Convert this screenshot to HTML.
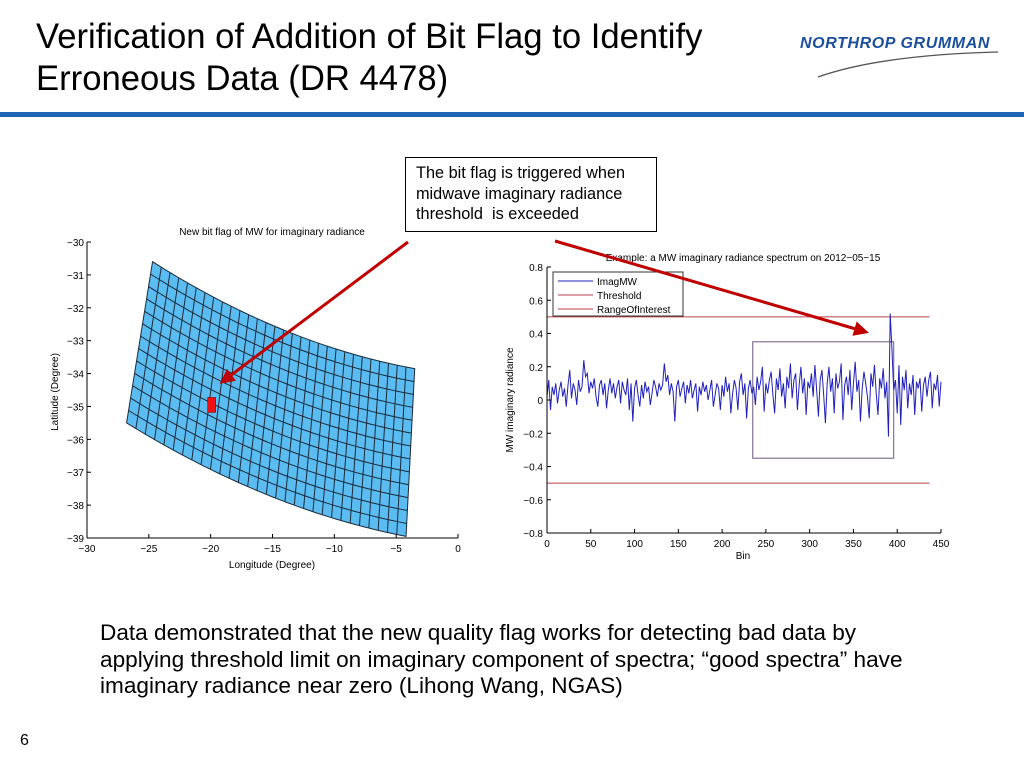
<!DOCTYPE html>
<html><head><meta charset="utf-8"><style>
body{margin:0;width:1024px;height:768px;background:#fff;position:relative;overflow:hidden;font-family:"Liberation Sans",sans-serif}
.t{position:absolute;left:36px;top:16px;font-size:35px;line-height:42px;color:#000;transform:scaleX(0.99);transform-origin:left top;white-space:nowrap}
.rule{position:absolute;left:0;top:112px;width:1024px;height:5px;background:#1f63b5}
.logo{position:absolute;left:800px;top:35px;font-size:16px;font-weight:bold;font-style:italic;color:#1a4f9c;letter-spacing:0.6px;white-space:nowrap}
.call{position:absolute;left:405px;top:157px;width:240px;height:68px;border:1.5px solid #000;padding:5px 0 0 10px;font-size:16.3px;line-height:20.5px;box-sizing:content-box;white-space:nowrap}
.body{position:absolute;left:100px;top:620px;font-size:22.6px;line-height:26.5px;white-space:nowrap}
.pg{position:absolute;left:20px;top:732px;font-size:16px}
svg{position:absolute;left:0;top:0}
</style></head><body>
<div class="t">Verification of Addition of Bit Flag to Identify<br>Erroneous Data (DR 4478)</div>
<div class="logo">NORTHROP GRUMMAN</div>
<div class="rule"></div>
<div class="call">The bit flag is triggered when<br>midwave imaginary radiance<br>threshold&nbsp; is exceeded</div>
<div class="body">Data demonstrated that the new quality flag works for detecting bad data by<br>applying threshold limit on imaginary component of spectra; “good spectra” have<br>imaginary radiance near zero (Lihong Wang, NGAS)</div>
<div class="pg">6</div>
<svg id="s" width="1024" height="768" xmlns="http://www.w3.org/2000/svg">
<path d="M818,77 Q880,55 998,52" stroke="#555" stroke-width="1.3" fill="none"/>
</svg>
<script>
// Left chart data
const lonTicks=[-30,-25,-20,-15,-10,-5,0];
const latTicks=[-30,-31,-32,-33,-34,-35,-36,-37,-38,-39];
const cornerLon=[-24.7,-3.5,-4.2,-26.8]; // TL,TR,BR,BL
const cornerLat=[-30.6,-33.85,-38.95,-35.5];
const gridCols=[30];
const gridRows=[13];
const flagCell=[-20.0,-35.0];
// Right chart data
const binTicks=[0,50,100,150,200,250,300,350,400,450];
const radTicks=[0.8,0.6,0.4,0.2,0,-0.2,-0.4,-0.6,-0.8];
const radLabels=['0.8','0.6','0.4','0.2','0','\u22120.2','\u22120.4','\u22120.6','\u22120.8'];
const threshold=[0.5,-0.5];
const roiBins=[235,396];
const roiRad=[0.35,-0.35];
const binStep=2;
const imagMW=[0.02,0.12,-0.06,0.08,0.03,0.10,-0.02,0.06,0.11,0.02,0.07,-0.04,0.09,0.18,0.01,0.10,0.06,-0.03,0.12,0.05,0.08,0.24,0.14,0.16,0.04,0.11,0.07,0.13,0.02,-0.04,0.09,0.12,0.03,0.10,-0.05,0.06,0.13,0.04,0.10,0.01,0.08,0.12,-0.02,0.11,0.06,0.03,0.13,-0.06,0.10,-0.13,0.07,0.12,0.03,-0.04,0.09,0.01,0.11,0.05,0.08,-0.03,0.04,0.12,0.08,0.02,0.10,0.06,0.09,0.22,0.11,0.15,0.03,0.10,0.05,-0.13,0.08,0.12,0.02,0.07,0.11,-0.02,0.09,0.04,0.12,0.01,0.06,0.10,-0.07,0.08,0.03,0.11,0.05,0.09,0.00,0.06,0.12,-0.04,0.03,0.10,0.07,-0.06,0.09,0.02,0.14,0.05,0.10,-0.08,0.04,0.12,0.07,-0.06,0.11,0.16,0.03,0.10,-0.11,0.07,0.12,0.04,0.08,-0.03,0.14,0.06,0.11,0.20,-0.07,0.10,0.04,0.12,0.17,0.03,-0.08,0.13,0.06,0.19,0.02,0.10,-0.05,0.14,0.07,0.22,0.01,0.12,0.16,-0.06,0.09,0.20,0.04,0.13,-0.09,0.11,0.07,0.16,0.02,0.21,0.06,-0.10,0.12,0.18,0.03,-0.14,0.10,0.20,0.05,0.13,-0.08,0.16,0.07,0.11,0.22,-0.12,0.09,0.14,0.03,0.18,-0.06,0.10,0.23,0.05,0.12,-0.13,0.07,0.17,0.10,0.02,-0.11,0.16,0.08,0.21,0.04,-0.09,0.13,0.07,0.19,0.01,0.11,-0.22,0.52,0.30,0.06,0.12,-0.08,0.21,-0.15,0.14,0.06,0.18,-0.05,0.10,0.03,0.15,-0.09,0.11,0.07,0.13,-0.07,0.09,0.14,0.02,0.12,0.17,-0.05,0.10,0.06,0.15,-0.04,0.11];

const NS='http://www.w3.org/2000/svg';
const svg=document.getElementById('s');
function mk(tag,attrs,parent){const e=document.createElementNS(NS,tag);for(const k in attrs)e.setAttribute(k,attrs[k]);(parent||svg).appendChild(e);return e;}
function txt(x,y,s,size,anchor,parent){const e=mk('text',{x:x,y:y,'font-size':size,'text-anchor':anchor||'middle','font-family':'Liberation Sans, sans-serif',fill:'#000'},parent);e.textContent=s;return e;}

// ---- left chart
const L={x0:87,x1:458,y0:242,y1:538};
const lx=v=>L.x0+(v+30)/30*(L.x1-L.x0);
const ly=v=>L.y0+(-30-v)/9*(L.y1-L.y0);
const lg=mk('g',{});


function pt(u,v){
  const lon=(1-u)*(1-v)*cornerLon[0]+u*(1-v)*cornerLon[1]+u*v*cornerLon[2]+(1-u)*v*cornerLon[3];
  let lat=(1-u)*(1-v)*cornerLat[0]+u*(1-v)*cornerLat[1]+u*v*cornerLat[2]+(1-u)*v*cornerLat[3];
  lat-=0.45*4*u*(1-u);
  return [lx(lon),ly(lat)];
}
let poly=[];const N=40;
for(let i=0;i<=N;i++)poly.push(pt(i/N,0));
for(let i=0;i<=N;i++)poly.push(pt(1,i/N));
for(let i=N;i>=0;i--)poly.push(pt(i/N,1));
for(let i=N;i>=0;i--)poly.push(pt(0,i/N));
const sw=mk('polygon',{points:poly.map(p=>p.join(',')).join(' '),fill:'#5bbcf2',stroke:'#1a2a3a','stroke-width':1},lg);


for(let c=1;c<gridCols[0];c++){let p=[];for(let i=0;i<=N;i++)p.push(pt(c/gridCols[0],i/N));mk('polyline',{points:p.join(' '),fill:'none',stroke:'#1a2a3a','stroke-width':1},lg);}
for(let r=1;r<gridRows[0];r++){let p=[];for(let i=0;i<=N;i++)p.push(pt(i/N,r/gridRows[0]));mk('polyline',{points:p.join(' '),fill:'none',stroke:'#1a2a3a','stroke-width':1},lg);}
const fc=mk('rect',{x:lx(flagCell[0])-3,y:ly(flagCell[1])-9,width:8,height:15,fill:'#f01010',stroke:'#600',"stroke-width":0.5},lg);


mk('line',{x1:L.x0,y1:L.y0,x2:L.x0,y2:L.y1,stroke:'#000'},lg);
mk('line',{x1:L.x0,y1:L.y1,x2:L.x1,y2:L.y1,stroke:'#000'},lg);
lonTicks.forEach(v=>{mk('line',{x1:lx(v),y1:L.y1,x2:lx(v),y2:L.y1-4,stroke:'#000'},lg);txt(lx(v),L.y1+14,v<0?'\u2212'+(-v):String(v),10,'middle',lg);});
latTicks.forEach(v=>{mk('line',{x1:L.x0,y1:ly(v),x2:L.x0+4,y2:ly(v),stroke:'#000'},lg);txt(L.x0-3,ly(v)+4,'\u2212'+(-v),10,'end',lg);});
const lt=txt(272,235,'New bit flag of MW for imaginary radiance',10,'middle',lg);


const lxl=txt(272,568,'Longitude (Degree)',10,'middle',lg);


const lyl=txt(0,0,'Latitude (Degree)',10,'middle',lg);lyl.setAttribute('transform','translate(58,392) rotate(-90)');



// ---- right chart
const R={x0:547,x1:941,y0:267,y1:533};
const rx=v=>R.x0+v/450*(R.x1-R.x0);
const ry=v=>R.y0+(0.8-v)/1.6*(R.y1-R.y0);
const rg=mk('g',{});


threshold.forEach(t=>{const l=mk('line',{x1:R.x0,y1:ry(t),x2:rx(437),y2:ry(t),stroke:'#b8404a','stroke-width':1},rg);});
const roi=mk('rect',{x:rx(roiBins[0]),y:ry(roiRad[0]),width:rx(roiBins[1])-rx(roiBins[0]),height:ry(roiRad[1])-ry(roiRad[0]),fill:'none',stroke:'#6a5a7a','stroke-width':1},rg);


const sp=mk('polyline',{points:imagMW.map((v,i)=>rx(i*binStep)+','+ry(v)).join(' '),fill:'none',stroke:'#2020b8','stroke-width':1},rg);


mk('line',{x1:R.x0,y1:R.y0,x2:R.x0,y2:R.y1,stroke:'#000'},rg);
mk('line',{x1:R.x0,y1:R.y1,x2:R.x1,y2:R.y1,stroke:'#000'},rg);
binTicks.forEach(v=>{mk('line',{x1:rx(v),y1:R.y1,x2:rx(v),y2:R.y1-4,stroke:'#000'},rg);txt(rx(v),R.y1+14,String(v),10,'middle',rg);});
radTicks.forEach((v,i)=>{mk('line',{x1:R.x0,y1:ry(v),x2:R.x0+4,y2:ry(v),stroke:'#000'},rg);txt(R.x0-4,ry(v)+4,radLabels[i],10,'end',rg);});
const rt=txt(743,261,'Example: a MW imaginary radiance spectrum on 2012\u221205\u221215',10,'middle',rg);


const rxl=txt(743,559,'Bin',10,'middle',rg);


const ryl=txt(0,0,'MW imaginary radiance',10,'middle',rg);ryl.setAttribute('transform','translate(513,400) rotate(-90)');


const leg=mk('g',{},rg);


mk('rect',{x:553,y:272,width:130,height:44,fill:'#fff',stroke:'#333'},leg);
[['ImagMW','#2020b8'],['Threshold','#b8404a'],['RangeOfInterest','#b8404a']].forEach((e,i)=>{const y=281+i*14;mk('line',{x1:558,y1:y,x2:593,y2:y,stroke:e[1]},leg);txt(597,y+4,e[0],10,'start',leg);});

// arrows
mk('defs',{}).innerHTML='<marker id="ah" markerWidth="5" markerHeight="5" refX="4" refY="2.5" orient="auto"><path d="M0,0 L5,2.5 L0,5 z" fill="#c00000"/></marker>';
const a1=mk('line',{x1:408,y1:242,x2:222,y2:382,stroke:'#c00000','stroke-width':3,'marker-end':'url(#ah)'});


const a2=mk('line',{x1:555,y1:241,x2:866,y2:332,stroke:'#c00000','stroke-width':3,'marker-end':'url(#ah)'});


</script>
</body></html>
